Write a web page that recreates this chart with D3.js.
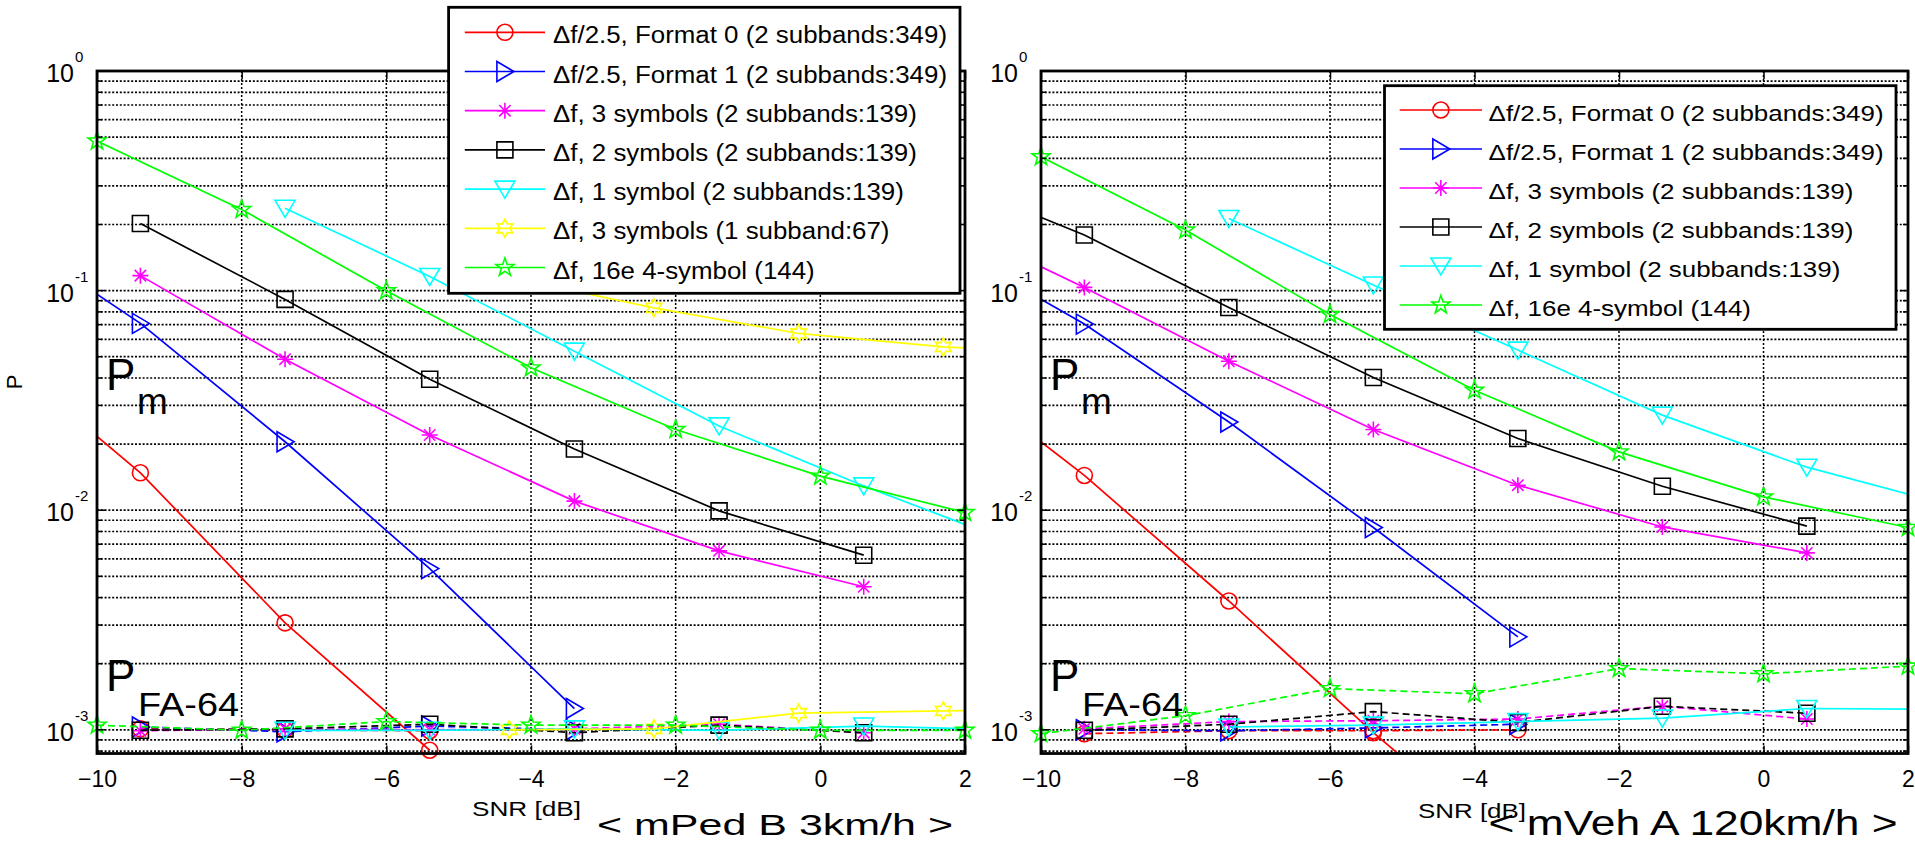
<!DOCTYPE html>
<html>
<head>
<meta charset="utf-8">
<script src="https://cdn.jsdelivr.net/npm/d3@7"></script>
<style>
body{margin:0;background:#fff;}
text{font-family:"Liberation Sans",Arial,Helvetica,sans-serif;}
</style>
</head>
<body>
<div id="viz"></div>
<script>
var width = 1915
var height = 841

var keys = ["f0","f1","s3","s2","s1","s3b","e16"]
var labels = [
	"\u0394f/2.5, Format 0 (2 subbands:349)",
	"\u0394f/2.5, Format 1 (2 subbands:349)",
	"\u0394f, 3 symbols (2 subbands:139)",
	"\u0394f, 2 symbols (2 subbands:139)",
	"\u0394f, 1 symbol (2 subbands:139)",
	"\u0394f, 3 symbols (1 subband:67)",
	"\u0394f, 16e 4-symbol (144)"
]
var xTicks = [-10,-8,-6,-4,-2,0,2]
var yDecades = [1e-3,1e-2,1e-1,1]
var yExp = ["-3","-2","-1","0"]

// < mPed B 3km/h > : missed detection
var pedPmF0 = [[-11.4,0.053],[-9.4,0.0148],[-7.4,0.00307],[-5.4,0.000807]]
var pedPmF1 = [[-11.4,0.197],[-9.4,0.0709],[-7.4,0.0205],[-5.4,0.00542],[-3.4,0.00125]]
var pedPmS3 = [[-9.4,0.117],[-7.4,0.0487],[-5.4,0.0220],[-3.4,0.0110],[-1.4,0.00653],[0.6,0.00448]]
var pedPmS2 = [[-9.4,0.202],[-7.4,0.0912],[-5.4,0.0395],[-3.4,0.0190],[-1.4,0.00993],[0.6,0.00624]]
var pedPmS1 = [[-7.4,0.237],[-5.4,0.116],[-3.4,0.053],[-1.4,0.0242],[0.6,0.0129],[2.6,0.00724]]
var pedPmS3b = [[-4.3,0.115],[-2.3,0.0835],[-0.3,0.0638],[1.7,0.0554],[3.7,0.052]]
var pedPmE16 = [[-10,0.480],[-8,0.234],[-6,0.0998],[-4,0.0445],[-2,0.0233],[0,0.0143],[2,0.00976]]

// < mPed B 3km/h > : false alarm
var pedFaF0 = [[-9.4,0.00101],[-7.4,0.00100],[-5.4,0.00099]]
var pedFaF1 = [[-9.4,0.00103],[-7.4,0.00098],[-5.4,0.00104],[-3.4,0.00100]]
var pedFaS3 = [[-9.4,0.00099],[-7.4,0.00101],[-5.4,0.00100],[-3.4,0.00101],[-1.4,0.00106],[0.6,0.00097]]
var pedFaS2 = [[-9.4,0.000995],[-7.4,0.00101],[-5.4,0.00106],[-3.4,0.00097],[-1.4,0.00105],[0.6,0.00097]]
var pedFaS1 = [[-7.4,0.000995],[-5.4,0.000995],[-3.4,0.00101],[-1.4,0.000995],[0.6,0.00104],[2.6,0.00100]]
var pedFaS3b = [[-4.3,0.00100],[-2.3,0.00101],[-0.3,0.00119],[1.7,0.00122],[3.7,0.00124]]
var pedFaE16 = [[-10,0.00105],[-8,0.000995],[-6,0.00109],[-4,0.00105],[-2,0.00105],[0,0.000995],[2,0.000995]]

// < mVeh A 120km/h > : missed detection
var vehPmF0 = [[-11.4,0.0464],[-9.4,0.0144],[-7.4,0.00386],[-5.4,0.00097],[-3.4,0.00027]]
var vehPmF1 = [[-11.4,0.168],[-9.4,0.0704],[-7.4,0.0252],[-5.4,0.00834],[-3.4,0.00265]]
var vehPmS3 = [[-11.4,0.213],[-9.4,0.1034],[-7.4,0.0477],[-5.4,0.0233],[-3.4,0.0130],[-1.4,0.00839],[0.6,0.00639]]
var vehPmS2 = [[-11.4,0.333],[-9.4,0.179],[-7.4,0.0838],[-5.4,0.0402],[-3.4,0.0212],[-1.4,0.01286],[0.6,0.00846]]
var vehPmS1 = [[-7.4,0.213],[-5.4,0.106],[-3.4,0.0536],[-1.4,0.0271],[0.6,0.0157],[2.6,0.0105]]
var vehPmE16 = [[-10,0.407],[-8,0.1887],[-6,0.0779],[-4,0.0352],[-2,0.01844],[0,0.0115],[2,0.00834]]

// < mVeh A 120km/h > : false alarm
var vehFaF0 = [[-9.4,0.00096],[-7.4,0.00099],[-5.4,0.00099],[-3.4,0.00100]]
var vehFaF1 = [[-9.4,0.00100],[-7.4,0.00099],[-5.4,0.00102],[-3.4,0.00106]]
var vehFaS3 = [[-9.4,0.00101],[-7.4,0.00109],[-5.4,0.00110],[-3.4,0.00112],[-1.4,0.00128],[0.6,0.00112]]
var vehFaS2 = [[-9.4,0.000995],[-7.4,0.00106],[-5.4,0.00121],[-3.4,0.00108],[-1.4,0.00128],[0.6,0.00119]]
var vehFaS1 = [[-7.4,0.00103],[-5.4,0.00105],[-3.4,0.00109],[-1.4,0.00113],[0.6,0.00125],[2.6,0.00124]]
var vehFaE16 = [[-10,0.00096],[-8,0.00116],[-6,0.00154],[-4,0.00146],[-2,0.00190],[0,0.00180],[2,0.00195]]

var colors = {f0:"#ff0000",f1:"#0000ff",s3:"#ff00ff",s2:"#000000",s1:"#00ffff",s3b:"#ffff00",e16:"#00ff00"}
var markers = {f0:"circle",f1:"triRight",s3:"asterisk",s2:"square",s1:"triDown",s3b:"hexagram",e16:"pentagram"}
var faDashed = {f0:true,f1:true,s3:true,s2:true,s1:false,s3b:false,e16:true}

var panels = [
	{id:"ped", left:97, right:965, ylabel:true,
	 pm:{f0:pedPmF0,f1:pedPmF1,s3:pedPmS3,s2:pedPmS2,s1:pedPmS1,s3b:pedPmS3b,e16:pedPmE16},
	 fa:{f0:pedFaF0,f1:pedFaF1,s3:pedFaS3,s2:pedFaS2,s1:pedFaS1,s3b:pedFaS3b,e16:pedFaE16},
	 keys:keys,
	 leg:{x0:448.6,y0:7.3,x1:960,y1:293.3,row0:32.3,step:39.2,lx0:464.8,lx1:545,tx:553,tw:394,font:23},
	 sub:"< mPed B 3km/h >", subX:597, subW:356, subFont:30,
	 snrX:472, snrW:109, snrY:816},
	{id:"veh", left:1041, right:1908, ylabel:false,
	 pm:{f0:vehPmF0,f1:vehPmF1,s3:vehPmS3,s2:vehPmS2,s1:vehPmS1,e16:vehPmE16},
	 fa:{f0:vehFaF0,f1:vehFaF1,s3:vehFaS3,s2:vehFaS2,s1:vehFaS1,e16:vehFaE16},
	 keys:["f0","f1","s3","s2","s1","e16"],
	 leg:{x0:1384.5,y0:85.7,x1:1896,y1:329.3,row0:110,step:39,lx0:1399.7,lx1:1482,tx:1488.6,tw:395,font:22},
	 sub:"< mVeh A 120km/h >", subX:1488.6, subW:409, subFont:35,
	 snrX:1418, snrW:108, snrY:818}
]

var plotTop = 71
var plotBottom = 753.5

var canvas = d3.select("#viz")
	.append("svg")
	.attr("width",width)
	.attr("height",height)

function star(n, R, r){
	var pts = []
	for (var i = 0; i < 2*n; i++){
		var a = -Math.PI/2 + i*Math.PI/n
		var rad = i % 2 ? r : R
		pts.push([(rad*Math.cos(a)).toFixed(2),(rad*Math.sin(a)).toFixed(2)])
	}
	return "M" + pts.join("L") + "Z"
}

function markerPath(type){
	if (type == "circle") return d3.symbol(d3.symbolCircle, Math.PI*64)()
	if (type == "square") return "M-8,-8H8V8H-8Z"
	if (type == "triRight") return "M-8,-10L9,0L-8,10Z"
	if (type == "triDown") return "M-10,-8L10,-8L0,9Z"
	if (type == "asterisk") return "M0,-8V8M-8,0H8M-5.7,-5.7L5.7,5.7M-5.7,5.7L5.7,-5.7"
	if (type == "pentagram") return star(5,9.5,3.8)
	if (type == "hexagram") return star(6,9,5)
}

function fitText(sel, w){
	var n = sel.node().getComputedTextLength()
	sel.attr("textLength",w).attr("lengthAdjust","spacingAndGlyphs")
	return w / n
}

panels.forEach(function(p){

var xScale = d3.scaleLinear()
	.domain([-10,2])
	.range([p.left,p.right])

var yScale = d3.scaleLog()
	.domain([7.8e-4,1])
	.range([plotBottom,plotTop])

var g = canvas.append("g")

// grid
g.selectAll(".vgrid")
	.data(xTicks.slice(1,-1))
	.enter()
	.append("line")
		.attr("x1",function(d){return xScale(d)})
		.attr("x2",function(d){return xScale(d)})
		.attr("y1",plotTop)
		.attr("y2",plotBottom)
		.attr("stroke","#000")
		.attr("stroke-width",1.5)
		.attr("stroke-dasharray","2,2")

g.selectAll(".hgrid")
	.data(yScale.ticks().filter(function(d){return d < 0.999}))
	.enter()
	.append("line")
		.attr("x1",p.left)
		.attr("x2",p.right)
		.attr("y1",function(d){return yScale(d)})
		.attr("y2",function(d){return yScale(d)})
		.attr("stroke","#000")
		.attr("stroke-width",1.7)
		.attr("stroke-dasharray","2,1.8")

canvas.append("clipPath")
	.attr("id","clip-" + p.id)
	.append("rect")
		.attr("x",p.left)
		.attr("y",plotTop)
		.attr("width",p.right - p.left)
		.attr("height",plotBottom - plotTop)

var valueLine = d3.line()
	.x(function(d){return xScale(d[0])})
	.y(function(d){return yScale(d[1])})

function inside(d){
	return d[0] >= -10.001 && d[0] <= 2.001 && d[1] >= 7.8e-4 && d[1] <= 1
}

function drawSeries(set, dashed){
	p.keys.forEach(function(k){
		var pts = set[k]
		g.append("path")
			.datum(pts)
			.attr("d",valueLine)
			.attr("fill","none")
			.attr("stroke",colors[k])
			.attr("stroke-width",1.7)
			.attr("stroke-dasharray",dashed && faDashed[k] ? "7,4" : null)
			.attr("clip-path","url(#clip-" + p.id + ")")
		g.selectAll(null)
			.data(pts.filter(inside))
			.enter()
			.append("path")
				.attr("d",markerPath(markers[k]))
				.attr("transform",function(d){return "translate(" + xScale(d[0]) + "," + yScale(d[1]) + ")"})
				.attr("fill","none")
				.attr("stroke",colors[k])
				.attr("stroke-width",1.6)
	})
}

drawSeries(p.pm,false)
drawSeries(p.fa,true)

// axes box and ticks
g.append("rect")
	.attr("x",p.left)
	.attr("y",plotTop)
	.attr("width",p.right - p.left)
	.attr("height",plotBottom - plotTop)
	.attr("fill","none")
	.attr("stroke","#000")
	.attr("stroke-width",2.8)

var xAxis = d3.axisBottom()
	.scale(xScale)
	.tickValues(xTicks)
	.tickSizeInner(-8)
	.tickSizeOuter(0)
	.tickPadding(17)
	.tickFormat(d3.format("d"))

var xg = g.append("g")
	.attr("transform","translate(0," + plotBottom + ")")
	.call(xAxis)
xg.select(".domain").remove()
xg.selectAll("line").attr("stroke-width",1.5)
xg.selectAll("text")
	.attr("font-size",23)
	.attr("font-family","Liberation Sans, Arial, sans-serif")
	.attr("fill","#000")

var xTop = g.append("g")
	.attr("transform","translate(0," + plotTop + ")")
	.call(d3.axisTop(xScale).tickValues(xTicks).tickSizeInner(-8).tickSizeOuter(0).tickFormat(""))
xTop.select(".domain").remove()
xTop.selectAll("line").attr("stroke-width",1.5)

yScale.ticks().forEach(function(d){
	var major = yDecades.some(function(v){return Math.abs(v - d) < v*1e-6})
	var len = major ? 8 : 5
	g.append("line")
		.attr("x1",p.left).attr("x2",p.left + len)
		.attr("y1",yScale(d)).attr("y2",yScale(d))
		.attr("stroke","#000").attr("stroke-width",1.5)
	g.append("line")
		.attr("x1",p.right).attr("x2",p.right - len)
		.attr("y1",yScale(d)).attr("y2",yScale(d))
		.attr("stroke","#000").attr("stroke-width",1.5)
})

yDecades.forEach(function(d,i){
	g.append("text")
		.text("10")
		.attr("x",p.left - 23)
		.attr("y",yScale(d) + 11)
		.attr("text-anchor","end")
		.attr("font-size",25)
	g.append("text")
		.text(yExp[i])
		.attr("x",p.left - 22)
		.attr("y",yScale(d) - 9)
		.attr("font-size",15)
})

// labels inside the plot
g.append("text").text("P").attr("x",p.left + 9).attr("y",390).attr("font-size",44)
g.append("text").text("m").attr("x",p.left + 40).attr("y",414).attr("font-size",37)
g.append("text").text("P").attr("x",p.left + 9).attr("y",691).attr("font-size",44)
var fa = g.append("text").text("FA-64").attr("x",p.left + 41).attr("y",716).attr("font-size",33)
fitText(fa,101)

if (p.ylabel){
	g.append("text")
		.text("P")
		.attr("transform","translate(22,382) rotate(-90)")
		.attr("text-anchor","middle")
		.attr("font-size",22)
}

var snr = g.append("text")
	.text("SNR [dB]")
	.attr("x",p.snrX)
	.attr("y",p.snrY)
	.attr("font-size",20)
fitText(snr,p.snrW)

var sub = g.append("text")
	.text(p.sub)
	.attr("x",p.subX)
	.attr("y",835)
	.attr("font-size",p.subFont)
fitText(sub,p.subW)

// legend
var L = p.leg
var lg = g.append("g")
lg.append("rect")
	.attr("x",L.x0)
	.attr("y",L.y0)
	.attr("width",L.x1 - L.x0)
	.attr("height",L.y1 - L.y0)
	.attr("fill","#fff")
	.attr("stroke","#000")
	.attr("stroke-width",2.8)

var factor = 1
p.keys.forEach(function(k,i){
	var yRow = L.row0 + i*L.step
	lg.append("line")
		.attr("x1",L.lx0)
		.attr("x2",L.lx1)
		.attr("y1",yRow)
		.attr("y2",yRow)
		.attr("stroke",colors[k])
		.attr("stroke-width",1.7)
	lg.append("path")
		.attr("d",markerPath(markers[k]))
		.attr("transform","translate(" + (L.lx0 + L.lx1)/2 + "," + yRow + ")")
		.attr("fill","none")
		.attr("stroke",colors[k])
		.attr("stroke-width",1.6)
	var t = lg.append("text")
		.text(labels[keys.indexOf(k)])
		.attr("x",L.tx)
		.attr("y",yRow + 11)
		.attr("font-size",L.font)
	var n = t.node().getComputedTextLength()
	if (i == 0) factor = L.tw / n
	t.attr("textLength",n*factor).attr("lengthAdjust","spacingAndGlyphs")
})

})
</script>
</body>
</html>
